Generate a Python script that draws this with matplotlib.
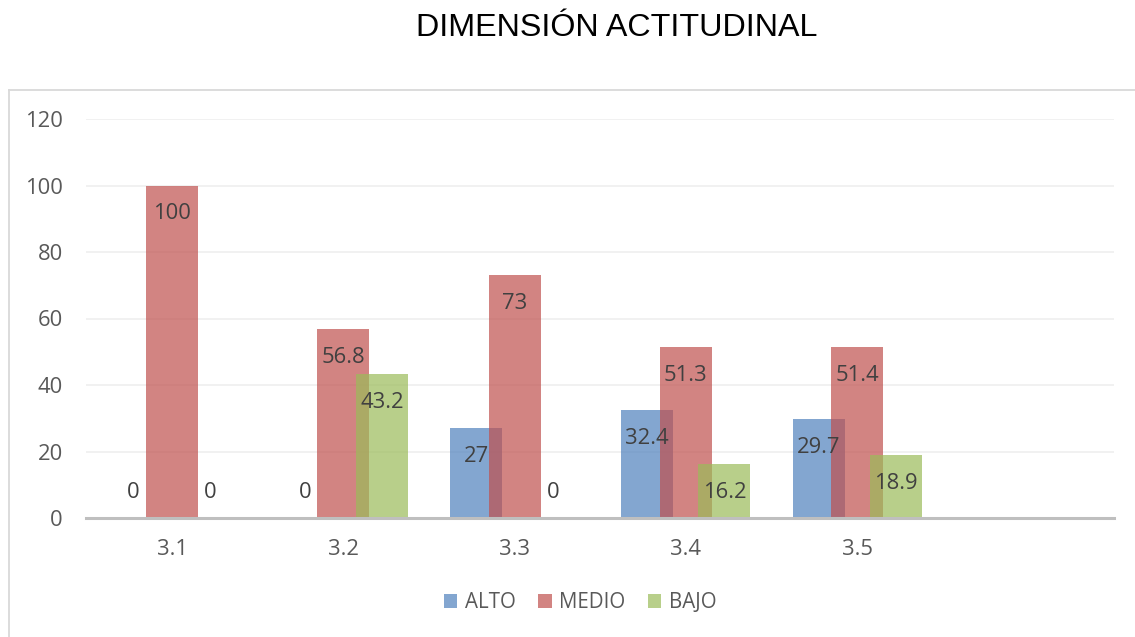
import matplotlib
matplotlib.use("Agg")
import matplotlib.pyplot as plt
from matplotlib.lines import Line2D
import numpy as np

categories = ["3.1", "3.2", "3.3", "3.4", "3.5", ""]
series_names = ["ALTO", "MEDIO", "BAJO"]
alto = [0, 0, 27, 32.4, 29.7]
medio = [100, 56.8, 73, 51.3, 51.4]
bajo = [0, 43.2, 0, 16.2, 18.9]
y_ticks = [0, 20, 40, 60, 80, 100, 120]

colors = ["#4F81BD", "#C0504D", "#9BBB59"]
font = "Open Sans"
text_grey = "#595959"
label_grey = "#404040"
fs = 15.8

W, H = 1135, 637
fig = plt.figure(figsize=(W / 100, H / 100), dpi=100)
ax = fig.add_axes([86.4 / W, 1 - 518 / H, (1114 - 86.4) / W, (518 - 119) / H])

# chart area frame (left and top edges visible)
frame_kw = dict(color="#D9D9D9", lw=1.3, transform=fig.transFigure)
fig.add_artist(Line2D([9 / W, 9 / W], [0, 1 - 90 / H], **frame_kw))
fig.add_artist(Line2D([9 / W, 1], [1 - 90 / H, 1 - 90 / H], **frame_kw))

x = np.arange(len(alto))
width = 0.304
step = 0.225
for i, (vals, c, name) in enumerate(zip([alto, medio, bajo], colors, series_names)):
    pos = x + (i - 1) * step
    ax.bar(pos, vals, width=width, color=c, alpha=0.7, label=name, zorder=3 + i,
           linewidth=0)
    for px, v in zip(pos, vals):
        off = 25 if v == 0 else -28
        ax.annotate(f"{v:g}", (px, v), xytext=(0, off), textcoords="offset pixels",
                    ha="center", va="center", fontsize=fs, color=label_grey,
                    family=font, zorder=10)

ax.set_xlim(-0.5, len(categories) - 0.5)
ax.set_ylim(0, 120)
ax.set_yticks(y_ticks)
ax.set_xticks(range(len(categories)))
ax.set_xticklabels(categories)
for lab in ax.get_xticklabels() + ax.get_yticklabels():
    lab.set_family(font)
    lab.set_fontsize(fs)
    lab.set_color(text_grey)
ax.tick_params(axis="both", length=0)
ax.tick_params(axis="x", pad=15)
ax.tick_params(axis="y", pad=17)

ax.grid(axis="y", color="#EFEFEF", lw=1.2, zorder=0)
for s in ["top", "right", "left"]:
    ax.spines[s].set_visible(False)
ax.spines["bottom"].set_color("#BFBFBF")
ax.spines["bottom"].set_linewidth(2.2)
ax.spines["bottom"].set_zorder(20)

fig.text(617 / W, 1 - 28 / H, "DIMENSIÓN ACTITUDINAL", ha="center", va="center",
         fontsize=23.2, family="Liberation Sans", color="#000000")

leg = fig.legend(loc="center", bbox_to_anchor=(580 / W, 1 - 603 / H), ncol=3,
                 frameon=False, prop={"family": font, "size": 14.8},
                 handlelength=0.66, handleheight=0.66, handletextpad=0.35,
                 columnspacing=1.1)
for t in leg.get_texts():
    t.set_color(text_grey)

fig.savefig("out.png", dpi=100)
